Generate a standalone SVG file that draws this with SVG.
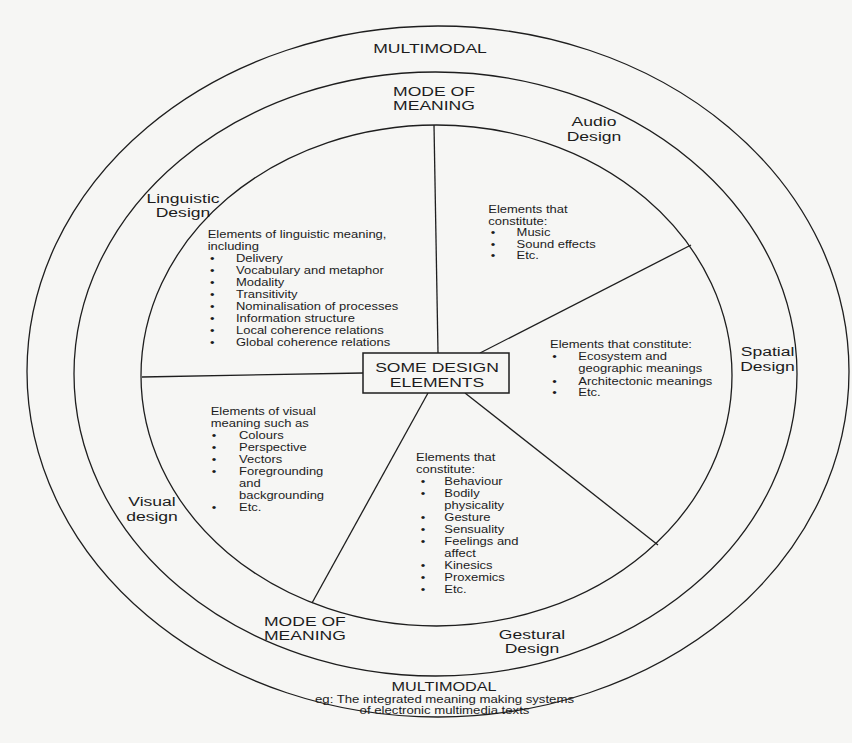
<svg xmlns="http://www.w3.org/2000/svg" width="852" height="743" viewBox="0 0 852 743">
<style>
text{font-family:"Liberation Sans",Arial,Helvetica,sans-serif;fill:#1c1c1c}
.s{font-size:11px}
.l{font-size:13.5px}
.m{text-anchor:middle}
.ring{fill:none;stroke:#1e1e1e;stroke-width:1.3}
.ln{stroke:#1e1e1e;stroke-width:1.3;fill:none}
</style>
<rect width="852" height="743" fill="#f6f6f4"/>
<g id="rings">
<ellipse class="ring" cx="438" cy="371.5" rx="411" ry="345.5"/>
<ellipse class="ring" cx="435.5" cy="374" rx="361.5" ry="302"/>
<ellipse class="ring" cx="436.5" cy="375.5" rx="295.5" ry="250.5"/>
</g>
<g id="connectors">
<line class="ln" x1="434" y1="125" x2="438" y2="353"/>
<line class="ln" x1="142" y1="377" x2="363" y2="373"/>
<line class="ln" x1="480" y1="353" x2="691" y2="245"/>
<line class="ln" x1="465" y1="393" x2="658" y2="545"/>
<line class="ln" x1="428" y1="393" x2="312" y2="603"/>
</g>
<g id="center">
<rect x="363" y="353" width="146" height="40" fill="#f6f6f4" stroke="#1e1e1e" stroke-width="1.5"/>
<g transform="translate(437 0) scale(1.3 1)"><text class="l m" x="0" y="372.3">SOME DESIGN</text><text class="l m" x="0" y="386.9">ELEMENTS</text></g>
</g>
<g id="multimodal-top" transform="translate(430 0) scale(1.3 1)"><text class="l m" x="0" y="53">MULTIMODAL</text></g>
<g id="mode-top" transform="translate(434 0) scale(1.3 1)"><text class="l m" x="0" y="96.5">MODE OF</text><text class="l m" x="0" y="110.5">MEANING</text></g>
<g id="mode-bottom" transform="translate(264 0) scale(1.3 1)"><text class="l" x="0" y="626">MODE OF</text><text class="l" x="0" y="640">MEANING</text></g>
<g id="multimodal-bottom">
<g transform="translate(444 0) scale(1.3 1)"><text class="m" style="font-size:12.5px" x="0" y="691.5">MULTIMODAL</text></g>
<g transform="translate(444.5 0) scale(1.32 1)"><text class="m" style="font-size:10px" x="0" y="703.5">eg: The integrated meaning making systems</text><text class="m" style="font-size:10px" x="0" y="714.5">of electronic multimedia texts</text></g>
</g>
<g id="audio">
<g transform="translate(594 0) scale(1.3 1)"><text class="l m" x="0" y="126">Audio</text><text class="l m" x="0" y="141">Design</text></g>
<g transform="translate(488.3 0) scale(1.18 1)">
<text class="s" x="0" y="213.5">Elements that</text>
<text class="s" x="0" y="225">constitute:</text>
<text class="s" x="2" y="236.5">•</text><text class="s" x="24" y="236.5">Music</text>
<text class="s" x="2" y="248">•</text><text class="s" x="24" y="248">Sound effects</text>
<text class="s" x="2" y="259.5">•</text><text class="s" x="24" y="259.5">Etc.</text>
</g>
</g>
<g id="linguistic">
<g transform="translate(183 0) scale(1.3 1)"><text class="l m" x="0" y="203">Linguistic</text><text class="l m" x="0" y="217.5">Design</text></g>
<g transform="translate(207.7 0) scale(1.18 1)">
<text class="s" x="0" y="238.5">Elements of linguistic meaning,</text>
<text class="s" x="0" y="250.4">including</text>
<text class="s" x="2" y="262.3">•</text><text class="s" x="24" y="262.3">Delivery</text>
<text class="s" x="2" y="274.2">•</text><text class="s" x="24" y="274.2">Vocabulary and metaphor</text>
<text class="s" x="2" y="286.1">•</text><text class="s" x="24" y="286.1">Modality</text>
<text class="s" x="2" y="298">•</text><text class="s" x="24" y="298">Transitivity</text>
<text class="s" x="2" y="309.9">•</text><text class="s" x="24" y="309.9">Nominalisation of processes</text>
<text class="s" x="2" y="321.8">•</text><text class="s" x="24" y="321.8">Information structure</text>
<text class="s" x="2" y="333.7">•</text><text class="s" x="24" y="333.7">Local coherence relations</text>
<text class="s" x="2" y="345.6">•</text><text class="s" x="24" y="345.6">Global coherence relations</text>
</g>
</g>
<g id="spatial">
<g transform="translate(767.5 0) scale(1.3 1)"><text class="l m" x="0" y="356.5">Spatial</text><text class="l m" x="0" y="371">Design</text></g>
<g transform="translate(550 0) scale(1.18 1)">
<text class="s" x="0" y="348.5">Elements that constitute:</text>
<text class="s" x="2" y="360.5">•</text><text class="s" x="24" y="360.5">Ecosystem and</text>
<text class="s" x="24" y="372.5">geographic meanings</text>
<text class="s" x="2" y="384.5">•</text><text class="s" x="24" y="384.5">Architectonic meanings</text>
<text class="s" x="2" y="396.5">•</text><text class="s" x="24" y="396.5">Etc.</text>
</g>
</g>
<g id="visual">
<g transform="translate(152 0) scale(1.3 1)"><text class="l m" x="0" y="506.5">Visual</text><text class="l m" x="0" y="521">design</text></g>
<g transform="translate(210.7 0) scale(1.18 1)">
<text class="s" x="0" y="415">Elements of visual</text>
<text class="s" x="0" y="427">meaning such as</text>
<text class="s" x="1" y="439">•</text><text class="s" x="24" y="439">Colours</text>
<text class="s" x="1" y="451">•</text><text class="s" x="24" y="451">Perspective</text>
<text class="s" x="1" y="463">•</text><text class="s" x="24" y="463">Vectors</text>
<text class="s" x="1" y="475">•</text><text class="s" x="24" y="475">Foregrounding</text>
<text class="s" x="24" y="487">and</text>
<text class="s" x="24" y="499">backgrounding</text>
<text class="s" x="1" y="511">•</text><text class="s" x="24" y="511">Etc.</text>
</g>
</g>
<g id="gestural">
<g transform="translate(532 0) scale(1.3 1)"><text class="l m" x="0" y="639">Gestural</text><text class="l m" x="0" y="653.5">Design</text></g>
<g transform="translate(416 0) scale(1.18 1)">
<text class="s" x="0" y="461.5">Elements that</text>
<text class="s" x="0" y="473.5">constitute:</text>
<text class="s" x="4" y="485.5">•</text><text class="s" x="24" y="485.5">Behaviour</text>
<text class="s" x="4" y="497.5">•</text><text class="s" x="24" y="497.5">Bodily</text>
<text class="s" x="24" y="509.5">physicality</text>
<text class="s" x="4" y="521.5">•</text><text class="s" x="24" y="521.5">Gesture</text>
<text class="s" x="4" y="533.5">•</text><text class="s" x="24" y="533.5">Sensuality</text>
<text class="s" x="4" y="545.5">•</text><text class="s" x="24" y="545.5">Feelings and</text>
<text class="s" x="24" y="557.5">affect</text>
<text class="s" x="4" y="569.5">•</text><text class="s" x="24" y="569.5">Kinesics</text>
<text class="s" x="4" y="581.5">•</text><text class="s" x="24" y="581.5">Proxemics</text>
<text class="s" x="4" y="593.5">•</text><text class="s" x="24" y="593.5">Etc.</text>
</g>
</g>
</svg>
